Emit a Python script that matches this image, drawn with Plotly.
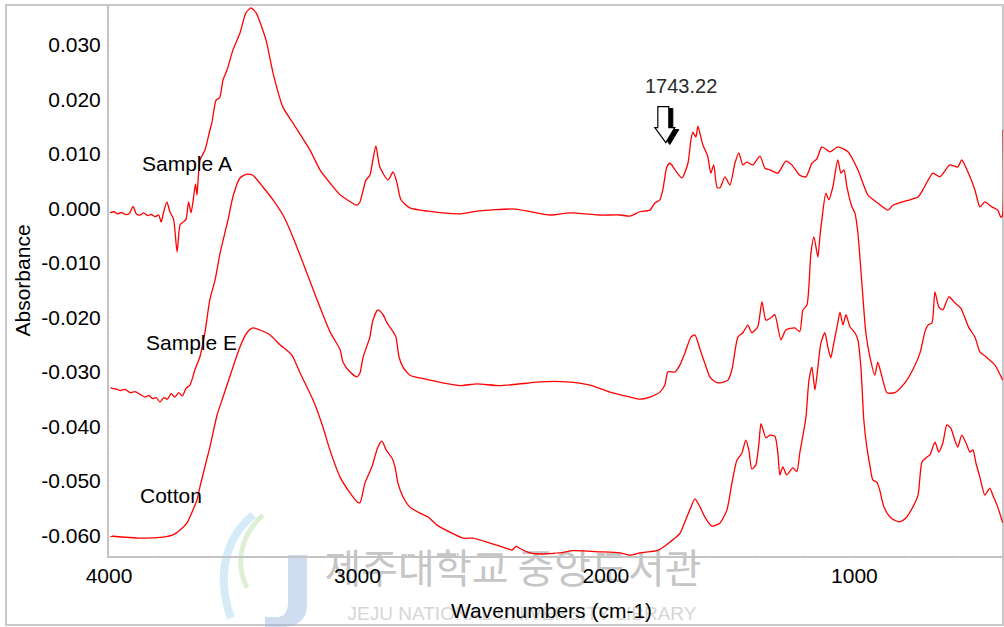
import plotly.graph_objects as go

# ---------------- data ----------------
series_names = ["Sample A", "Sample E", "Cotton"]

wn_a = [3996, 3980, 3965, 3950, 3935, 3918, 3903, 3890, 3875, 3860, 3845, 3830, 3815, 3800,
        3790, 3782, 3767, 3755, 3740, 3726, 3714, 3702, 3690, 3680, 3670, 3662, 3652, 3646,
        3634, 3614, 3594, 3586, 3569, 3555, 3541, 3525, 3501, 3473, 3449, 3429, 3408, 3368,
        3340, 3300, 3260, 3191, 3151, 3111, 3070, 3058, 3002, 2990, 2966, 2950, 2938, 2926,
        2910, 2877, 2857, 2841, 2825, 2789, 2716, 2588, 2519, 2366, 2225, 2145, 2024, 1944,
        1903, 1863, 1823, 1803, 1783, 1771, 1755, 1742, 1722, 1694, 1670, 1658, 1650, 1638,
        1630, 1618, 1610, 1590, 1578, 1566, 1553, 1541, 1521, 1501, 1481, 1465, 1449, 1433,
        1409, 1380, 1360, 1340, 1308, 1276, 1252, 1220, 1195, 1171, 1151, 1131, 1099, 1067,
        1026, 986, 946, 906, 865, 845, 777, 744, 720, 684, 656, 616, 584, 568, 543, 515,
        495, 475, 447, 423, 411, 405, 402]
abs_a = [-0.0008, -0.0006, -0.0010, -0.0007, -0.0011, -0.0009, 0.0004, -0.0010, -0.0012, -0.0008,
         -0.0013, -0.0011, -0.0015, -0.0012, -0.0025, -0.0010, 0.0012, -0.0006, -0.0020, -0.0080,
         -0.0030, -0.0025, -0.0020, 0.0012, -0.0008, 0.0012, 0.0045, 0.0025, 0.0089, 0.0107,
         0.0144, 0.0157, 0.0199, 0.0203, 0.0236, 0.0254, 0.0291, 0.0322, 0.0359, 0.0368,
         0.0359, 0.0309, 0.0249, 0.0186, 0.0157, 0.0107, 0.0071, 0.0047, 0.0025, 0.0021,
         0.0006, 0.0012, 0.0052, 0.0061, 0.0089, 0.0115, 0.0076, 0.0052, 0.0067, 0.0047,
         0.0016, 0.0001, -0.0005, -0.0010, -0.0005, -0.0001, -0.0012, -0.0008, -0.0012, -0.0012,
         -0.0014, -0.0006, -0.0003, 0.0010, 0.0016, 0.0034, 0.0076, 0.0083, 0.0071, 0.0056,
         0.0083, 0.0126, 0.0140, 0.0131, 0.0151, 0.0131, 0.0117, 0.0095, 0.0065, 0.0080,
         0.0039, 0.0038, 0.0058, 0.0043, 0.0083, 0.0102, 0.0080, 0.0085, 0.0080, 0.0096,
         0.0074, 0.0071, 0.0065, 0.0087, 0.0080, 0.0061, 0.0058, 0.0083, 0.0091, 0.0113,
         0.0104, 0.0113, 0.0104, 0.0071, 0.0025, 0.0010, -0.0003, 0.0006, 0.0016, 0.0021,
         0.0038, 0.0065, 0.0058, 0.0080, 0.0076, 0.0089, 0.0067, 0.0034, 0.0003, 0.0012,
         0.0003, -0.0003, -0.0016, -0.0014, 0.0144]

wn_e = [3996, 3975, 3955, 3935, 3915, 3895, 3875, 3855, 3840, 3825, 3810, 3795, 3780, 3765,
        3750, 3735, 3720, 3705, 3690, 3674, 3654, 3634, 3614, 3594, 3573, 3553, 3521, 3501,
        3473, 3445, 3421, 3380, 3340, 3300, 3272, 3219, 3163, 3111, 3070, 3058, 3030, 3002,
        2990, 2978, 2950, 2938, 2918, 2897, 2881, 2857, 2845, 2833, 2817, 2789, 2749, 2708,
        2656, 2588, 2519, 2427, 2306, 2266, 2157, 2064, 1984, 1903, 1863, 1823, 1783, 1763,
        1751, 1722, 1702, 1682, 1658, 1642, 1621, 1602, 1582, 1561, 1541, 1509, 1493, 1469,
        1449, 1429, 1413, 1389, 1372, 1356, 1332, 1320, 1296, 1276, 1240, 1220, 1207, 1191,
        1175, 1163, 1147, 1139, 1131, 1115, 1103, 1087, 1067, 1054, 1042, 1030, 1010, 998,
        986, 970, 954, 938, 918, 906, 889, 869, 837, 797, 765, 736, 716, 704, 688, 676,
        660, 644, 620, 596, 572, 539, 515, 495, 471, 435, 403]
abs_e = [-0.0329, -0.0331, -0.0334, -0.0332, -0.0338, -0.0336, -0.0341, -0.0346, -0.0343, -0.0349,
         -0.0347, -0.0355, -0.0347, -0.0350, -0.0340, -0.0346, -0.0338, -0.0344, -0.0330, -0.0324,
         -0.0296, -0.0272, -0.0228, -0.0167, -0.0131, -0.0082, -0.0021, 0.0022, 0.0056, 0.0063,
         0.0061, 0.0039, 0.0016, -0.0012, -0.0039, -0.0100, -0.0167, -0.0226, -0.0259, -0.0282,
         -0.0300, -0.0309, -0.0302, -0.0274, -0.0236, -0.0205, -0.0186, -0.0195, -0.0210, -0.0226,
         -0.0236, -0.0272, -0.0291, -0.0306, -0.0311, -0.0315, -0.0320, -0.0325, -0.0322, -0.0325,
         -0.0320, -0.0318, -0.0318, -0.0324, -0.0337, -0.0346, -0.0350, -0.0346, -0.0337, -0.0324,
         -0.0300, -0.0300, -0.0287, -0.0265, -0.0236, -0.0232, -0.0259, -0.0284, -0.0309, -0.0318,
         -0.0320, -0.0315, -0.0296, -0.0236, -0.0228, -0.0214, -0.0228, -0.0217, -0.0171, -0.0205,
         -0.0199, -0.0195, -0.0241, -0.0223, -0.0219, -0.0226, -0.0186, -0.0177, -0.0082, -0.0052,
         -0.0089, -0.0052, -0.0021, 0.0028, 0.0016, 0.0039, 0.0089, 0.0065, 0.0071, 0.0039,
         0.0003, -0.0008, -0.0045, -0.0137, -0.0228, -0.0272, -0.0306, -0.0282, -0.0309, -0.0338,
         -0.0338, -0.0320, -0.0296, -0.0265, -0.0226, -0.0214, -0.0210, -0.0153, -0.0181, -0.0186,
         -0.0162, -0.0173, -0.0183, -0.0219, -0.0236, -0.0263, -0.0272, -0.0287, -0.0315]

wn_c = [3996, 3875, 3783, 3742, 3714, 3686, 3662, 3646, 3634, 3614, 3594, 3565, 3541, 3501,
        3473, 3445, 3421, 3392, 3352, 3312, 3264, 3231, 3179, 3139, 3111, 3070, 3030, 3002,
        2990, 2970, 2942, 2918, 2901, 2885, 2861, 2849, 2837, 2817, 2789, 2749, 2716, 2680,
        2628, 2575, 2535, 2467, 2398, 2378, 2362, 2346, 2306, 2266, 2185, 2133, 2024, 1944,
        1903, 1863, 1795, 1771, 1742, 1702, 1682, 1658, 1642, 1621, 1602, 1574, 1541, 1513,
        1493, 1473, 1453, 1437, 1425, 1413, 1397, 1384, 1376, 1356, 1340, 1320, 1308, 1300,
        1288, 1272, 1248, 1232, 1220, 1207, 1195, 1183, 1171, 1159, 1147, 1135, 1119, 1107,
        1095, 1083, 1067, 1058, 1046, 1034, 1018, 998, 986, 974, 962, 950, 938, 926, 910,
        898, 881, 857, 833, 817, 793, 765, 744, 728, 708, 696, 676, 660, 644, 628, 612,
        596, 584, 568, 551, 535, 523, 511, 495, 475, 455, 443, 423, 403]
abs_c = [-0.0601, -0.0605, -0.0603, -0.0599, -0.0590, -0.0577, -0.0553, -0.0535, -0.0511, -0.0474,
         -0.0438, -0.0379, -0.0346, -0.0291, -0.0254, -0.0228, -0.0219, -0.0223, -0.0232, -0.0250,
         -0.0269, -0.0302, -0.0351, -0.0401, -0.0443, -0.0493, -0.0522, -0.0538, -0.0540, -0.0504,
         -0.0474, -0.0438, -0.0427, -0.0443, -0.0458, -0.0474, -0.0504, -0.0529, -0.0548, -0.0559,
         -0.0566, -0.0581, -0.0594, -0.0605, -0.0605, -0.0614, -0.0624, -0.0627, -0.0620, -0.0624,
         -0.0632, -0.0634, -0.0632, -0.0628, -0.0630, -0.0632, -0.0636, -0.0632, -0.0628, -0.0622,
         -0.0612, -0.0596, -0.0575, -0.0548, -0.0533, -0.0548, -0.0566, -0.0583, -0.0577, -0.0553,
         -0.0504, -0.0462, -0.0449, -0.0425, -0.0443, -0.0478, -0.0471, -0.0430, -0.0395, -0.0421,
         -0.0416, -0.0418, -0.0449, -0.0489, -0.0474, -0.0489, -0.0476, -0.0483, -0.0449, -0.0416,
         -0.0383, -0.0315, -0.0291, -0.0333, -0.0291, -0.0247, -0.0228, -0.0254, -0.0274, -0.0247,
         -0.0210, -0.0190, -0.0214, -0.0195, -0.0217, -0.0228, -0.0241, -0.0291, -0.0389, -0.0438,
         -0.0471, -0.0498, -0.0502, -0.0517, -0.0548, -0.0566, -0.0573, -0.0575, -0.0568, -0.0548,
         -0.0526, -0.0465, -0.0456, -0.0452, -0.0429, -0.0447, -0.0430, -0.0397, -0.0403, -0.0425,
         -0.0438, -0.0416, -0.0430, -0.0447, -0.0443, -0.0467, -0.0493, -0.0526, -0.0513, -0.0526,
         -0.0548, -0.0577]

x_tickvals = [4000, 3000, 2000, 1000]
x_ticktext = ["4000", "3000", "2000", "1000"]
y_tickvals = [0.03, 0.02, 0.01, 0.0, -0.01, -0.02, -0.03, -0.04, -0.05, -0.06]
y_ticktext = ["0.030", "0.020", "0.010", "0.000", "-0.010", "-0.020", "-0.030",
              "-0.040", "-0.050", "-0.060"]
peak_label = "1743.22"
x_title = "Wavenumbers (cm-1)"
y_title = "Absorbance"
watermark_kr = "제주대학교 중앙도서관"
watermark_en = "JEJU NATIONAL UNIVERSITY LIBRARY"

# ---------------- figure ----------------
W, H = 1004, 627
L, R, T, B = 109, 1, 5, 71
PW, PH = W - L - R, H - T - B
FONT = "Liberation Sans, Arial, Helvetica, sans-serif"


def px(x):
    return (x - L) / PW


def py(y):
    return (H - B - y) / PH


fig = go.Figure()
for name, xs, ys in zip(series_names, [wn_a, wn_e, wn_c], [abs_a, abs_e, abs_c]):
    fig.add_trace(go.Scatter(x=xs, y=ys, mode="lines", name=name, showlegend=False,
                             line=dict(color="#ff0000", width=1.3, shape="spline",
                                       smoothing=0.6)))

shapes = []
# outer frame
shapes.append(dict(type="rect", xref="paper", yref="paper", x0=px(6), x1=px(1003),
                   y0=py(625), y1=py(5), line=dict(color="#c8c8c8", width=2), layer="below"))
# watermark (library) -- drawn beneath the axes
shapes.append(dict(type="rect", xref="paper", yref="paper", x0=px(313), x1=px(713),
                   y0=py(592), y1=py(552), line=dict(width=0), fillcolor="rgba(0,0,0,0)",
                   layer="below",
                   label=dict(text=watermark_kr, textposition="middle center",
                              font=dict(size=40, color="#c6c6c6", family="Noto Sans CJK KR"))))
shapes.append(dict(type="rect", xref="paper", yref="paper", x0=px(322), x1=px(722),
                   y0=py(622), y1=py(600), line=dict(width=0), fillcolor="rgba(0,0,0,0)",
                   layer="below",
                   label=dict(text=watermark_en, textposition="middle center",
                              font=dict(size=19, color="#d6d6d6", family=FONT))))
# logo (approximation)
logo_ax, logo_ay = px(265), py(570)
shapes.append(dict(type="path", xref="paper", yref="paper", xsizemode="pixel", ysizemode="pixel",
                   xanchor=logo_ax, yanchor=logo_ay, layer="below",
                   path="M 23,15 L 42,15 L 42,-35 Q 42,-57 15,-57 L 0,-57 L 0,-47 L 12,-47 Q 23,-47 23,-32 Z",
                   fillcolor="rgba(150,178,222,0.45)", line=dict(width=0)))
shapes.append(dict(type="path", xref="paper", yref="paper", xsizemode="pixel", ysizemode="pixel",
                   xanchor=logo_ax, yanchor=logo_ay, layer="below",
                   path="M -12,55 C -42,30 -48,-10 -34,-48",
                   line=dict(color="rgba(150,205,235,0.4)", width=8)))
shapes.append(dict(type="path", xref="paper", yref="paper", xsizemode="pixel", ysizemode="pixel",
                   xanchor=logo_ax, yanchor=logo_ay, layer="below",
                   path="M -2,55 C -28,32 -28,2 -18,-18",
                   line=dict(color="rgba(180,220,160,0.45)", width=5)))
# peak arrow (3D style): shadow then white arrow, anchored at the marked peak
arrow_x, arrow_y = 1759, 0.0121
arrow_path = "M -8,36 L 3,36 L 3,15 L 9,15 L 0,0 L -11,15 L -8,15 Z"
shadow_path = "M -4,34 L 7,34 L 7,13 L 13,13 L 4,-2 L -7,13 L -4,13 Z"
shapes.append(dict(type="path", xref="x", yref="y", xsizemode="pixel", ysizemode="pixel",
                   xanchor=arrow_x, yanchor=arrow_y, path=shadow_path,
                   fillcolor="black", line=dict(color="black", width=1)))
shapes.append(dict(type="path", xref="x", yref="y", xsizemode="pixel", ysizemode="pixel",
                   xanchor=arrow_x, yanchor=arrow_y, path=arrow_path,
                   fillcolor="white", line=dict(color="black", width=1.2)))

annotations = []
label_pos = [(3875, 0.0082), (3859, -0.0245), (3883, -0.0526)]
for name, (lx, ly) in zip(series_names, label_pos):
    annotations.append(dict(x=lx, y=ly, xref="x", yref="y", text=name, showarrow=False,
                            xanchor="left", yanchor="middle",
                            font=dict(size=21, color="black", family=FONT)))
annotations.append(dict(x=1698, y=0.0225, xref="x", yref="y", text=peak_label, showarrow=False,
                        xanchor="center", yanchor="middle",
                        font=dict(size=20, color="#2a2a2a", family=FONT)))
annotations.append(dict(x=px(21.5), y=py(281), xref="paper", yref="paper", text=y_title,
                        showarrow=False, textangle=-90, xanchor="center", yanchor="middle",
                        font=dict(size=21, color="black", family=FONT)))
annotations.append(dict(x=px(551), y=py(610), xref="paper", yref="paper", text=x_title,
                        showarrow=False, xanchor="center", yanchor="middle",
                        font=dict(size=21, color="black", family=FONT)))

fig.update_layout(
    width=W, height=H,
    margin=dict(l=L, r=R, t=T, b=B, pad=0),
    paper_bgcolor="white", plot_bgcolor="white",
    showlegend=False,
    shapes=shapes, annotations=annotations,
    xaxis=dict(range=[4000, 402], autorange=False, showgrid=False, zeroline=False,
               showline=True, linecolor="#c4c4c4", linewidth=2,
               tickmode="array", tickvals=x_tickvals, ticktext=x_ticktext,
               ticks="inside", ticklen=3, tickcolor="#f4f4f4", tickwidth=1,
               minor=dict(tickmode="linear", tick0=4000, dtick=200, ticks="inside",
                          ticklen=3, tickcolor="#f4f4f4", showgrid=False),
               tickfont=dict(size=21, color="black", family=FONT)),
    yaxis=dict(range=[-0.06377, 0.03734], autorange=False, showgrid=False, zeroline=False,
               showline=True, linecolor="#c4c4c4", linewidth=2,
               tickmode="array", tickvals=y_tickvals, ticktext=y_ticktext,
               ticks="inside", ticklen=3, tickcolor="#f4f4f4", tickwidth=1,
               minor=dict(tickmode="linear", tick0=0, dtick=0.001, ticks="inside",
                          ticklen=2, tickcolor="#f4f4f4", showgrid=False),
               ticklabelstandoff=2,
               tickfont=dict(size=21, color="black", family=FONT)),
)

fig.write_html("out.html", config={"displayModeBar": False},
               post_script="document.body.style.margin='0';")
